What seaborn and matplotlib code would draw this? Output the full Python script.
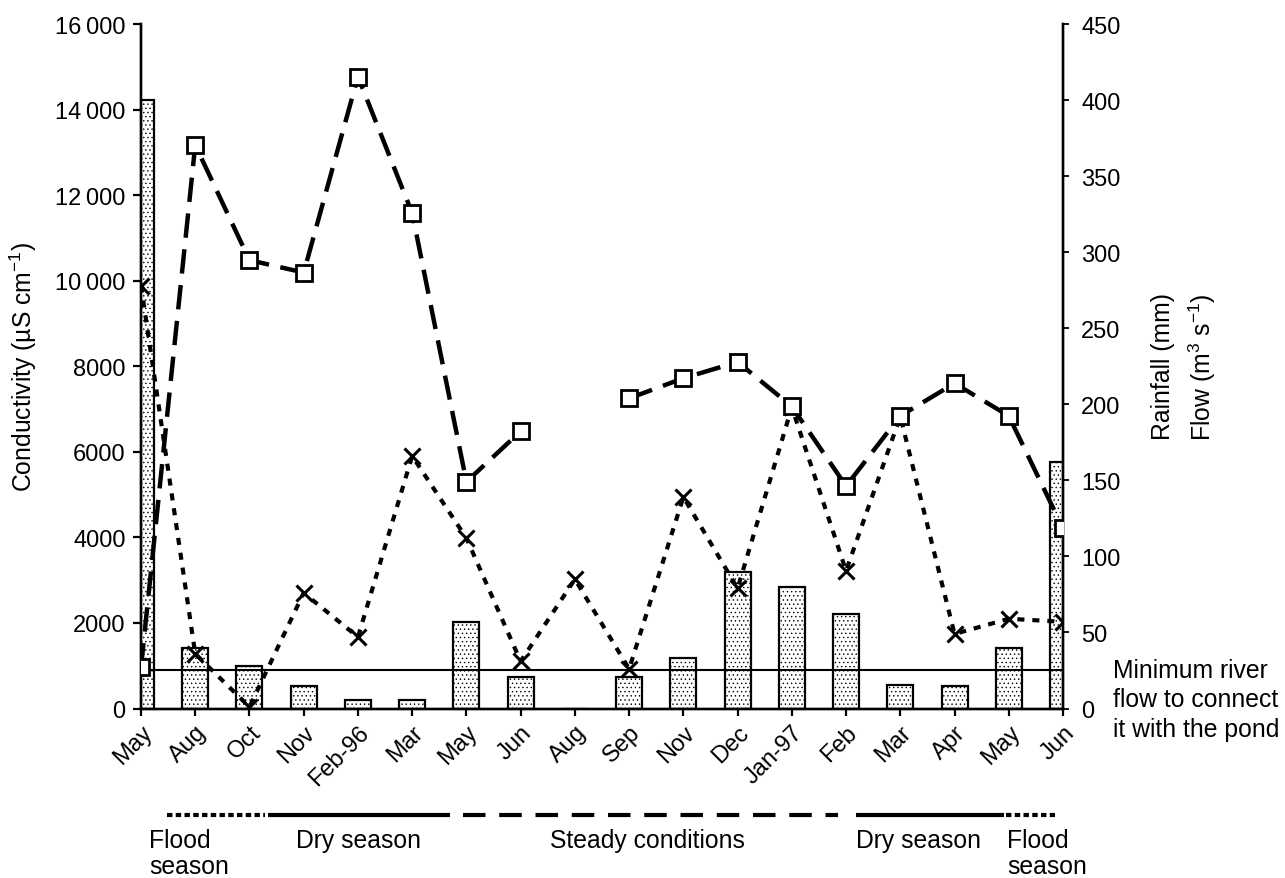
import numpy as np
import pandas as pd
import matplotlib
matplotlib.use("Agg")
import matplotlib.pyplot as plt
import seaborn as sns
from matplotlib.lines import Line2D

# ---------------- data ----------------
months = ["May", "Aug", "Oct", "Nov", "Feb-96", "Mar", "May", "Jun", "Aug",
          "Sep", "Nov", "Dec", "Jan-97", "Feb", "Mar", "Apr", "May", "Jun"]
rainfall = [400, 40, 28, 15, 5.6, 5.6, 57, 20.5, 0, 20.5, 33, 90, 80, 62, 15.4, 15, 40, 162]
conductivity = [960, 13170, 10480, 10190, 14770, 11580, 5300, 6480, np.nan,
                7250, 7720, 8100, 7060, 5200, 6840, 7600, 6840, 4210]
flow = [278, 36, 1, 76, 47, 166, 112, 31, 85, 26, 139, 79, 198, 90.5, 192, 49, 59, 57]
segment = [0] * 8 + [1] * 10
min_flow = 25
left_ticks = [0, 2000, 4000, 6000, 8000, 10000, 12000, 14000, 16000]
left_ticklabels = ["0", "2000", "4000", "6000", "8000",
                   "10\u2009000", "12\u2009000", "14\u2009000", "16\u2009000"]
right_ticks = [0, 50, 100, 150, 200, 250, 300, 350, 400, 450]

df = pd.DataFrame({"idx": np.arange(len(months)), "month": months,
                   "rainfall": rainfall, "conductivity": conductivity,
                   "flow": flow, "segment": segment})

# ---------------- style ----------------
sns.set_theme(style="white")
plt.rcParams["font.family"] = ["Liberation Sans", "DejaVu Sans"]
plt.rcParams["mathtext.fontset"] = "custom"
plt.rcParams["mathtext.rm"] = "Liberation Sans"
plt.rcParams["mathtext.it"] = "Liberation Sans:italic"
plt.rcParams["mathtext.default"] = "regular"
plt.rcParams["hatch.linewidth"] = 0.5
plt.rcParams["text.color"] = "black"
FS = 17
TFS = 17.8

W, H = 1285, 879
fig = plt.figure(figsize=(W / 100, H / 100), dpi=100)
ax = fig.add_axes([141 / W, 1 - 709.5 / H, (1063 - 141) / W, (709.5 - 25) / H])
ax2 = ax.twinx()

# bars (rainfall) on right axis
sns.barplot(data=df, x="idx", y="rainfall", ax=ax2, color="white",
            edgecolor="black", linewidth=1.6, width=0.48, hatch="....",
            saturation=1, errorbar=None, zorder=1)
for p in ax2.patches:
    p.set_facecolor("white")

# minimum river flow line
ax2.axhline(min_flow, color="black", lw=1.5, zorder=2)

# flow (x markers, dotted) on right axis
sns.lineplot(data=df, x="idx", y="flow", ax=ax2, color="black", lw=3,
             linestyle=(0, (1.7, 1.9)), marker="x", markersize=11,
             markeredgecolor="black", markeredgewidth=2.2, zorder=3,
             estimator=None, legend=False)

# conductivity (squares, long dashes) on left axis, with a gap
sns.lineplot(data=df, x="idx", y="conductivity", units="segment", ax=ax,
             color="black", lw=3.2, linestyle=(0, (5.5, 2.6)), marker="s",
             markersize=11, markerfacecolor="white", markeredgecolor="black",
             markeredgewidth=2, estimator=None, legend=False, zorder=4)

ax.set_zorder(ax2.get_zorder() + 1)
ax.patch.set_visible(False)

# axes limits / ticks
for a in (ax, ax2):
    a.set_xlim(0, len(months) - 1)
    a.spines["top"].set_visible(False)
    for s in ("left", "right", "bottom"):
        a.spines[s].set_linewidth(1.7)
        a.spines[s].set_color("black")
ax.set_ylim(0, 16000)
ax2.set_ylim(0, 450)
ax.set_yticks(left_ticks)
ax.set_yticklabels(left_ticklabels)
ax2.set_yticks(right_ticks)
ax.set_xticks(np.arange(len(months)))
ax.set_xticklabels(months, rotation=45, ha="right", rotation_mode="anchor")
ax.tick_params(axis="y", which="both", left=True, right=False, direction="out",
               length=6, width=1.6, pad=5, labelsize=FS, colors="black")
ax.tick_params(axis="x", bottom=True, direction="out", length=5, width=1.6,
               pad=4, labelsize=FS, colors="black")
ax2.tick_params(axis="y", right=True, left=False, direction="out", length=4,
                width=1.3, pad=9, labelsize=FS, colors="black")
ax.set_xlabel("")
ax.set_ylabel("")
ax2.set_xlabel("")
ax2.set_ylabel("")
ax.grid(False)
ax2.grid(False)

# axis titles
fig.text(23 / W, 1 - 367 / H, "Conductivity (µS cm$^{-1}$)", rotation=90,
         ha="center", va="center", fontsize=TFS, color="black")
fig.text(1163 / W, 1 - 367 / H, "Rainfall (mm)", rotation=90,
         ha="center", va="center", fontsize=TFS, color="black")
fig.text(1202 / W, 1 - 367 / H, "Flow (m$^{3}$ s$^{-1}$)", rotation=90,
         ha="center", va="center", fontsize=TFS, color="black")

# minimum flow annotation
for i, line in enumerate(["Minimum river", "flow to connect", "it with the pond"]):
    fig.text(1113 / W, 1 - (671 + 29.5 * i) / H, line, ha="left", va="center",
             fontsize=TFS, color="black")

# season markers below the axis
yl = 1 - 816 / H
def seg(x0, x1, ls):
    fig.add_artist(Line2D([x0 / W, x1 / W], [yl, yl], transform=fig.transFigure,
                          color="black", lw=3, linestyle=ls, solid_capstyle="butt",
                          dash_capstyle="butt"))
seg(167, 265, (0, (1.3, 0.8)))
seg(268, 450, "-")
seg(463, 838, (0, (5.4, 3.3)))
seg(856, 1004, "-")
seg(1006, 1055, (0, (1.3, 0.8)))

def t(x, y, s, ha="center"):
    fig.text(x / W, 1 - y / H, s, ha=ha, va="center", fontsize=TFS, color="black")
t(149, 841, "Flood", "left")
t(149, 867, "season", "left")
t(358, 841, "Dry season")
t(647, 841, "Steady conditions")
t(918, 841, "Dry season")
t(1007, 841, "Flood", "left")
t(1007, 867, "season", "left")

fig.savefig("out.png", dpi=100, facecolor="white")
